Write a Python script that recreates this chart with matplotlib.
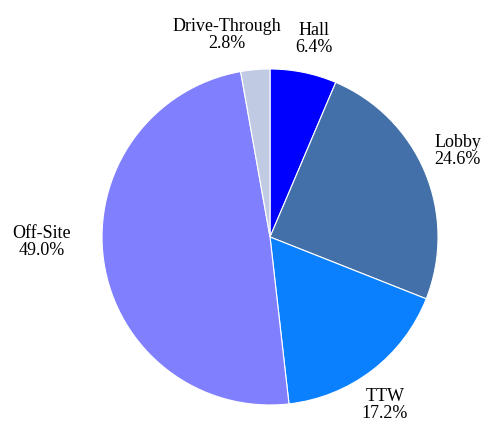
import numpy as np
import matplotlib
matplotlib.use("Agg")
import matplotlib.pyplot as plt

plt.rcParams['font.family'] = ['Liberation Serif', 'DejaVu Serif']

labels = ['Hall', 'Lobby', 'TTW', 'Off-Site', 'Drive-Through']
shares = [6.4, 24.6, 17.2, 49.0, 2.8]
colors = ['#0000FF', '#4370A8', '#0A80FF', '#8080FF', '#C0CAE2']

# radial distance and angular nudge (deg) for each label
label_dist = [1.21, 1.23, 1.21, 1.36, 1.23]
label_nudge = [-1, 2, -3, -7, 7]

fig = plt.figure(figsize=(4.83, 4.23), dpi=100)
ax = fig.add_axes([0.2112, 0.0426, 0.6957, 0.7943])

wedges, _ = ax.pie(shares, colors=colors, startangle=90, counterclock=False,
                   wedgeprops=dict(edgecolor='white', linewidth=0.8))

for w, name, val, d, nudge in zip(wedges, labels, shares, label_dist, label_nudge):
    mid = np.deg2rad((w.theta1 + w.theta2) / 2 + nudge)
    x, y = d * np.cos(mid), d * np.sin(mid)
    ax.text(x, y, name, ha='center', va='bottom', fontsize=13, color='black')
    ax.text(x, y, f'{val:.1f}%', ha='center', va='top', fontsize=13, color='black')

ax.set_xlim(-1, 1)
ax.set_ylim(-1, 1)
ax.axis('off')

fig.savefig('out.png', dpi=100)
